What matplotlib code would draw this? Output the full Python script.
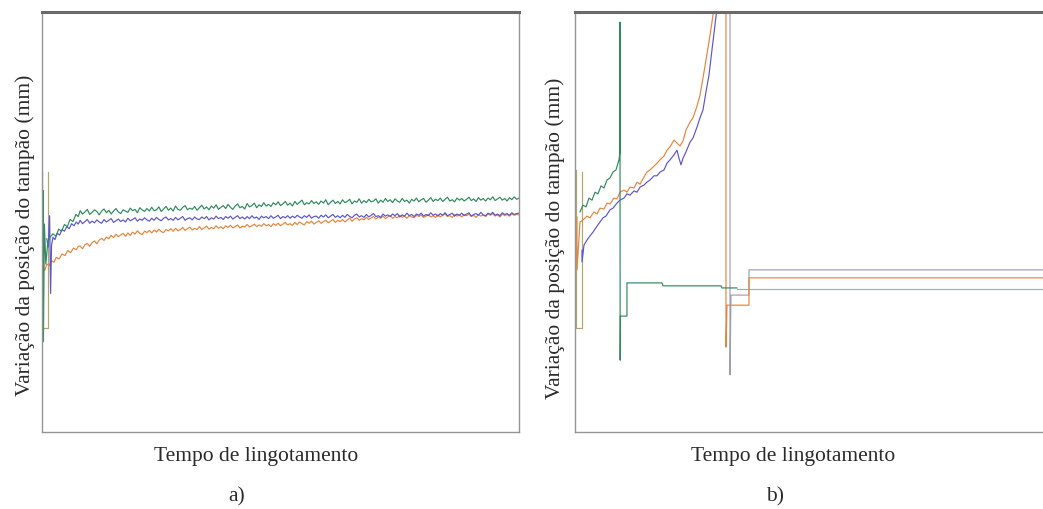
import numpy as np
import matplotlib
matplotlib.use("Agg")
import matplotlib.pyplot as plt

# ---------------- Panel a) data (x: casting time, arbitrary 0-100; y: stopper position, arbitrary 0-100)
a_green_early_x = [0.3, 0.3, 0.5, 0.8, 1.2, 1.7, 2.3, 2.9, 3.5, 4.1, 4.7, 5.3, 5.9, 6.5, 7.1, 7.6]
a_green_early_y = [57.5, 21.5, 49.5, 40.0, 45.0, 46.4, 47.2, 46.6, 48.3, 47.8, 49.4, 48.9, 50.6, 50.1, 51.8, 51.3]
a_green = [52.7, 51.9, 52.4, 53.0, 51.8, 52.3, 52.9, 52.5, 51.7, 52.6,
           53.1, 52.2, 52.8, 51.9, 52.6, 53.2, 52.4, 52.0, 52.9, 52.6,
           52.3, 53.3, 52.7, 53.0, 52.2, 53.4, 52.9, 52.5, 53.2, 52.6,
           53.5, 52.7, 52.9, 53.6, 52.5, 53.1, 53.7, 52.8, 53.3, 52.6,
           53.8, 53.0, 52.8, 53.5, 53.9, 52.9, 53.3, 53.0, 53.7, 52.8,
           53.4, 54.0, 53.1, 53.6, 52.9, 53.8, 53.3, 54.1, 53.0, 53.5,
           53.9, 53.2, 54.2, 53.5, 53.0, 53.8, 54.3, 53.4, 53.7, 53.1,
           54.4, 53.6, 53.9, 54.5, 53.4, 54.1, 53.7, 54.6, 53.8, 54.2,
           53.7, 54.6, 54.1, 54.8, 53.9, 54.3, 54.9, 54.0, 54.5, 53.8,
           54.9, 54.2, 54.7, 55.2, 54.1, 54.6, 54.3, 55.1, 54.4, 54.8,
           54.2, 55.0, 54.5, 55.3, 54.1, 54.7, 55.2, 54.4, 54.9, 54.3,
           55.3, 54.6, 54.9, 55.4, 54.3, 55.0, 54.7, 55.5, 54.5, 55.1,
           54.6, 55.4, 54.8, 55.0, 55.5, 54.5, 55.2, 54.7, 55.6, 54.9,
           55.3, 54.6, 55.5, 55.0, 54.7, 55.6, 54.9, 55.2, 54.5, 55.4,
           55.0, 55.7, 54.8, 55.3, 55.6, 54.7, 55.2, 55.8, 54.9, 55.4,
           55.1, 55.7, 54.9, 55.4, 55.9, 55.0, 55.3, 54.8, 55.7, 55.2,
           55.6, 55.0, 55.4, 55.9, 55.1, 55.5, 54.9, 55.8, 55.2, 55.6,
           55.0, 55.7, 55.3, 56.0, 55.1, 55.5, 55.9, 55.2, 55.6, 55.0,
           55.8, 55.3, 56.0, 55.4, 55.7]

a_blue_early_x = [1.0, 1.3, 1.6, 1.8, 2.0, 2.3, 2.7, 3.2, 3.7, 4.2, 4.7, 5.2, 5.7, 6.2, 6.7, 7.2, 7.6]
a_blue_early_y = [46.0, 44.0, 51.5, 33.0, 44.5, 46.4, 45.8, 47.3, 46.9, 48.2, 47.8, 48.9, 48.4, 49.6, 49.1, 50.0, 49.5]
a_blue = [50.4, 49.6, 50.1, 50.6, 49.7, 50.2, 49.8, 50.5, 50.0, 49.7,
          50.6, 50.0, 50.4, 50.8, 49.9, 50.3, 50.7, 50.1, 50.5, 50.0,
          50.9, 50.3, 50.6, 51.0, 50.2, 50.7, 50.4, 51.0, 50.5, 50.2,
          50.9, 50.4, 51.1, 50.6, 50.3, 50.9, 51.2, 50.5, 50.8, 50.4,
          51.1, 50.5, 50.9, 51.3, 50.4, 50.8, 51.0, 50.5, 51.2, 50.7,
          50.6, 51.2, 50.8, 51.3, 50.5, 51.0, 50.7, 51.4, 50.8, 51.1,
          50.6, 51.3, 50.9, 51.4, 50.7, 51.1, 51.5, 50.8, 51.2, 50.7,
          51.3, 50.8, 51.5, 50.9, 51.2, 50.6, 51.4, 51.0, 51.3, 50.8,
          51.5, 50.9, 51.2, 51.6, 50.8, 51.3, 51.0, 51.5, 50.9, 51.4,
          51.0, 51.6, 51.2, 50.9, 51.5, 51.1, 51.7, 50.9, 51.3, 51.4,
          50.9, 51.6, 51.2, 51.7, 51.0, 51.4, 51.8, 51.1, 51.5, 51.0,
          51.6, 51.1, 51.8, 51.3, 51.0, 51.6, 51.9, 51.2, 51.5, 51.1,
          51.8, 51.2, 51.6, 52.0, 51.3, 51.5, 51.1, 51.9, 51.4, 51.7,
          51.3, 51.9, 51.5, 52.0, 51.2, 51.7, 51.4, 52.1, 51.5, 51.8,
          51.3, 51.9, 51.6, 52.1, 51.4, 51.8, 51.5, 52.2, 51.6, 51.9,
          51.4, 52.0, 51.6, 52.2, 51.5, 51.8, 52.1, 51.4, 51.9, 51.6,
          52.1, 51.5, 51.9, 52.2, 51.4, 51.8, 52.0, 51.6, 52.3, 51.7,
          51.5, 52.1, 51.8, 52.3, 51.6, 51.9, 51.5, 52.2, 51.8, 52.0,
          51.6, 52.2, 51.8, 52.0, 52.1]

a_orange_early_x = [0.1, 0.1, 0.3, 0.6, 1.0, 1.5, 2.0, 2.5, 3.0, 3.6, 4.2, 4.8, 5.4, 6.0, 6.6, 7.2, 7.6]
a_orange_early_y = [62.0, 30.0, 39.0, 38.5, 40.0, 39.6, 40.8, 40.4, 41.6, 41.2, 42.4, 42.0, 43.2, 42.7, 43.8, 43.4, 44.2]
a_orange = [44.3, 43.6, 44.6, 44.9, 44.2, 45.1, 45.5, 44.8, 45.7, 46.1,
            45.6, 46.4, 46.0, 46.8, 46.3, 47.1, 46.5, 46.9, 47.3, 46.6,
            47.4, 46.8, 47.6, 47.1, 47.9, 47.3, 47.0, 47.8, 47.5, 48.0,
            47.4, 48.1, 47.6, 48.3, 47.7, 47.5, 48.2, 47.9, 48.4, 47.8,
            48.5, 47.9, 48.2, 48.7, 48.0, 48.4, 48.8, 48.1, 48.5, 48.2,
            48.9, 48.2, 48.6, 49.0, 48.3, 48.7, 48.4, 49.1, 48.5, 48.9,
            48.4, 49.1, 48.7, 49.2, 48.6, 48.9, 49.3, 48.6, 49.0, 48.8,
            49.4, 48.8, 49.1, 49.5, 48.9, 49.3, 49.0, 49.6, 49.1, 49.4,
            48.9, 49.6, 49.2, 49.7, 49.1, 49.5, 49.9, 49.3, 49.6, 49.2,
            49.9, 49.4, 50.0, 49.6, 49.3, 50.1, 49.7, 50.2, 49.5, 49.9,
            50.3, 49.7, 50.1, 50.4, 49.8, 50.2, 50.6, 49.9, 50.4, 50.1,
            50.6, 50.0, 50.5, 50.9, 50.2, 50.7, 51.0, 50.4, 50.8, 50.5,
            51.1, 50.6, 51.0, 51.3, 50.7, 51.2, 50.9, 51.4, 50.8, 51.2,
            51.5, 50.9, 51.3, 51.0, 51.6, 51.1, 51.4, 50.9, 51.5, 51.2,
            51.0, 51.6, 51.3, 51.7, 51.1, 51.4, 51.8, 51.2, 51.5, 51.1,
            51.7, 51.2, 51.6, 51.9, 51.3, 51.5, 51.1, 51.8, 51.4, 51.7,
            51.2, 51.8, 51.5, 51.9, 51.3, 51.6, 51.1, 51.8, 51.4, 51.7,
            51.3, 51.9, 51.6, 52.0, 51.4, 51.7, 51.2, 51.9, 51.5, 51.8,
            51.4, 51.9, 51.6, 51.8, 51.7]

a_tan_x = [0.05, 0.05, 1.2, 1.2]
a_tan_y = [62.0, 24.8, 24.8, 62.0]

# ---------------- Panel b) data
b_tan_x = [0.2, 0.2, 1.5, 1.5]
b_tan_y = [62.4, 24.8, 24.8, 61.9]

b_green_x = [1.07, 1.71, 2.35, 2.99, 3.63, 4.27, 4.91, 5.56, 6.20, 6.84, 7.48, 8.12, 8.76, 9.40,
             9.6, 9.6, 9.65, 9.7, 11.1, 11.1, 18.6, 18.8, 31.2, 31.4, 34.6]
b_green_y = [52.4, 54.0, 53.6, 55.7, 55.2, 57.1, 56.7, 58.6, 58.1, 60.0, 60.5, 61.9, 62.4, 64.8,
             66.7, 97.6, 17.1, 27.6, 27.6, 35.5, 35.5, 34.8, 34.8, 34.3, 34.3]
b_teal_x = [34.6, 100.0]
b_teal_y = [34.0, 34.0]

b_orange_x = [0.43, 0.43, 1.07, 1.71, 2.56, 3.21, 4.06, 4.70, 5.34, 6.20, 6.84, 7.48, 8.33, 8.97,
              9.62, 10.47, 11.11, 11.75, 12.61, 13.25, 13.89, 14.74, 15.38, 16.03, 16.88, 17.52,
              18.16, 19.02, 19.66, 20.30, 21.15, 21.79, 22.44, 23.08, 23.72, 24.57, 25.21, 26.07,
              26.71, 27.35, 27.99, 28.63, 29.27, 29.70, 32.26, 32.26, 32.48, 37.18, 37.18, 100.0]
b_orange_y = [51.2, 38.6, 50.0, 50.5, 51.4, 51.0, 52.4, 51.9, 53.3, 53.1, 54.5, 54.3, 55.7, 55.5,
              57.1, 57.6, 57.1, 58.3, 58.1, 59.5, 59.0, 60.7, 61.9, 62.4, 63.3, 64.0,
              64.8, 65.7, 67.1, 67.9, 69.5, 68.8, 68.1, 69.3, 71.9, 73.8, 74.8, 77.6,
              80.2, 84.3, 88.6, 92.9, 97.6, 101.0, 107.6, 20.2, 30.2, 30.2, 36.7, 36.7]

b_blue_x = [1.50, 1.50, 1.92, 2.56, 3.21, 3.85, 4.70, 5.34, 5.98, 6.62, 7.48, 8.12, 8.97, 9.62,
            10.47, 11.11, 11.75, 12.61, 13.25, 13.89, 14.74, 15.38, 16.03, 16.88, 17.52, 18.16,
            19.02, 19.66, 20.30, 21.15, 21.79, 22.22, 22.65, 23.08, 23.72, 24.57, 25.21, 26.07,
            26.71, 27.35, 27.99, 28.63, 29.27, 29.91, 30.34]
b_blue_y = [43.3, 40.5, 44.5, 45.7, 46.7, 47.6, 49.0, 50.0, 51.0, 51.4, 52.9, 53.3, 54.5, 55.2,
            55.7, 56.7, 56.4, 57.4, 57.1, 58.3, 58.8, 59.5, 60.0, 61.0, 61.0, 61.9,
            62.4, 64.0, 64.8, 66.0, 67.1, 65.2, 63.6, 65.2, 66.7, 69.0, 70.0, 72.6,
            74.8, 76.7, 81.0, 85.0, 91.0, 96.9, 101.0]
b_gray_x = [33.12, 33.12, 33.33, 37.18, 37.18, 100.0]
b_gray_y = [107.6, 13.6, 32.6, 32.6, 38.6, 38.6]

# ---------------- styling
GREEN = "#2f8a5c"
BLUE = "#5a55d0"
ORANGE = "#e8843a"
TAN = "#b5a46a"
GRAYV = "#9d9db4"
TEAL = "#72c2c4"
TEXT = "#2a2a2a"
FONT = "Liberation Serif"

W, H = 1043, 509
fig = plt.figure(figsize=(W / 100, H / 100), dpi=100)
fig.patch.set_facecolor("white")

ax_a = fig.add_axes([42 / W, 1 - 432 / H, 477 / W, 420 / H])
ax_b = fig.add_axes([575 / W, 1 - 432 / H, 470 / W, 420 / H])

lw = 0.85


def grid(vals):
    return list(np.linspace(8, 100, len(vals)))


ax_a.plot(a_tan_x, a_tan_y, color=TAN, lw=lw)
ax_a.plot(a_orange_early_x + grid(a_orange), a_orange_early_y + a_orange, color=ORANGE, lw=lw)
ax_a.plot(a_blue_early_x + grid(a_blue), a_blue_early_y + a_blue, color=BLUE, lw=lw)
ax_a.plot(a_green_early_x + grid(a_green), a_green_early_y + a_green, color=GREEN, lw=lw)

ax_b.plot(b_tan_x, b_tan_y, color=TAN, lw=lw)
ax_b.plot(b_teal_x, b_teal_y, color=TEAL, lw=lw)
ax_b.plot(b_gray_x, b_gray_y, color=GRAYV, lw=lw)
ax_b.plot(b_orange_x, b_orange_y, color=ORANGE, lw=lw)
ax_b.plot(b_blue_x, b_blue_y, color=BLUE, lw=lw)
ax_b.plot(b_green_x, b_green_y, color=GREEN, lw=lw)

for ax in (ax_a, ax_b):
    ax.set_xlim(0, 100)
    ax.set_ylim(0, 100)
    ax.set_xticks([])
    ax.set_yticks([])
    ax.spines["top"].set_color("#6a6a6a")
    ax.spines["top"].set_linewidth(2.2)
    for s in ("left", "bottom", "right"):
        ax.spines[s].set_color("#959595")
        ax.spines[s].set_linewidth(1.0)
ax_b.spines["right"].set_visible(False)
ax_b.set_xlim(0, 100 * 470 / 468)

fs = 15.5
fig.text(25 / W, 1 - 235 / H, "Variação da posição do tampão (mm)", rotation=90,
         ha="center", va="center", fontsize=fs, family=FONT, color=TEXT)
fig.text(555 / W, 1 - 238 / H, "Variação da posição do tampão (mm)", rotation=90,
         ha="center", va="center", fontsize=fs, family=FONT, color=TEXT)
fig.text(256 / W, 1 - 456 / H, "Tempo de lingotamento", ha="center", va="center",
         fontsize=fs, family=FONT, color=TEXT)
fig.text(793 / W, 1 - 456 / H, "Tempo de lingotamento", ha="center", va="center",
         fontsize=fs, family=FONT, color=TEXT)
fig.text(237 / W, 1 - 497 / H, "a)", ha="center", va="center", fontsize=fs, family=FONT, color=TEXT)
fig.text(775 / W, 1 - 497 / H, "b)", ha="center", va="center", fontsize=fs, family=FONT, color=TEXT)

fig.savefig("out.png", dpi=100, facecolor="white")
